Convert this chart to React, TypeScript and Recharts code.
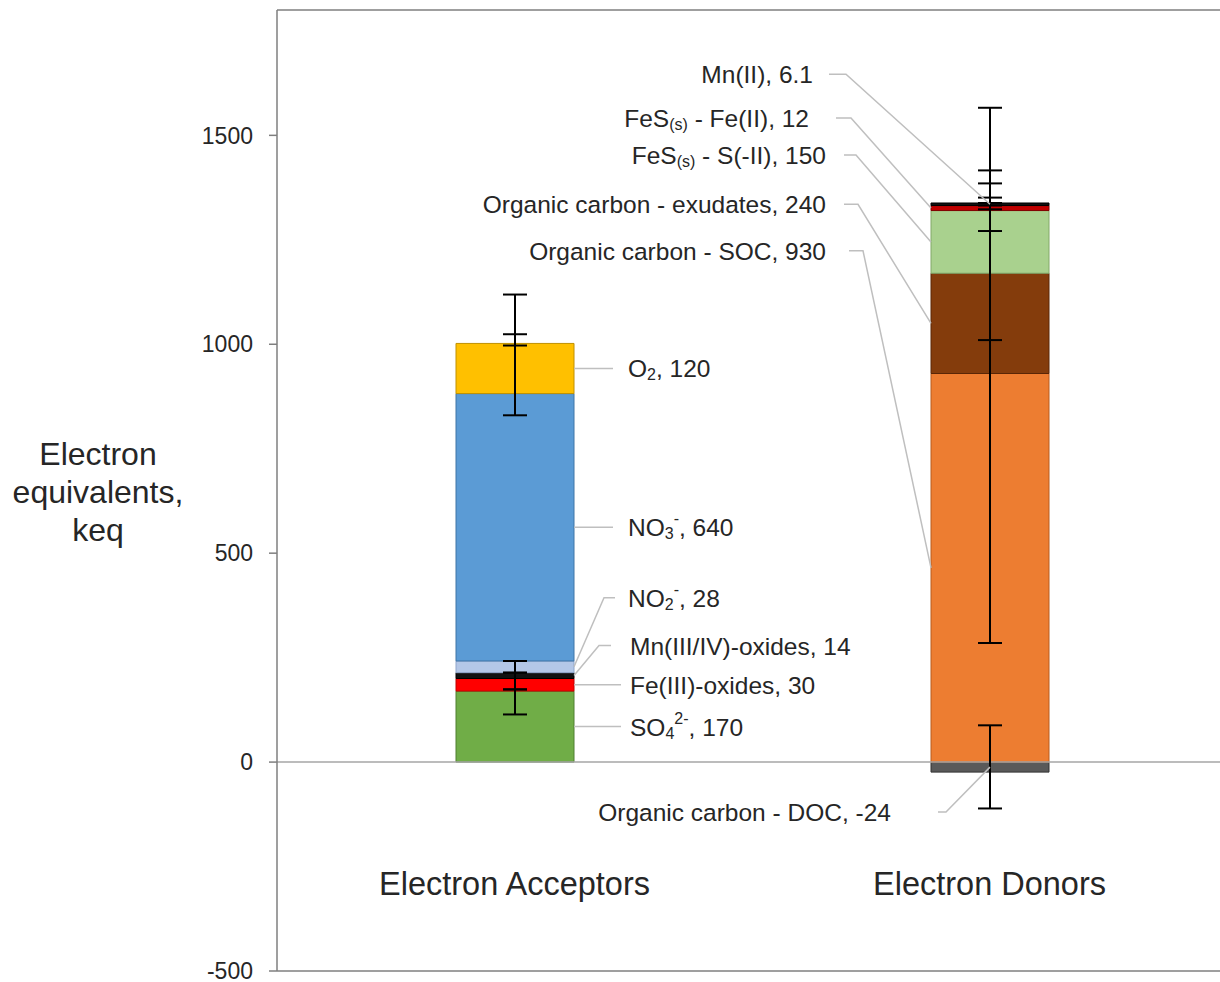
import React from "react";
import {
  BarChart,
  Bar,
  XAxis,
  YAxis,
  ErrorBar,
  LabelList,
  ReferenceLine,
} from "recharts";

const categories = ["Electron Acceptors", "Electron Donors"];

const acceptorKeys = ["so4", "fe3", "mn34", "no2", "no3", "o2"];
const acceptorValues = [170, 30, 14, 28, 640, 120];
// [minus, plus]
const acceptorErrors = [[56, 4], [26, 42], [0, 0], [0, 0], [52, 142], [5, 117]];

const donorKeys = ["doc", "soc", "exu", "fesS", "fesFe", "mn2"];
const donorValues = [-24, 930, 240, 150, 12, 6.1];
const donorErrors = [[87, 112], [645, 636], [160, 153], [49, 65], [0, 19], [0, 78]];

const yTicks = [-500, 0, 500, 1000, 1500];

type Part = { t: string; s?: "sub" | "sup" };

const seriesNames: Record<string, Part[]> = {
  so4: [{ t: "SO" }, { t: "4", s: "sub" }, { t: "2-", s: "sup" }],
  fe3: [{ t: "Fe(III)-oxides" }],
  mn34: [{ t: "Mn(III/IV)-oxides" }],
  no2: [{ t: "NO" }, { t: "2", s: "sub" }, { t: "-", s: "sup" }],
  no3: [{ t: "NO" }, { t: "3", s: "sub" }, { t: "-", s: "sup" }],
  o2: [{ t: "O" }, { t: "2", s: "sub" }],
  doc: [{ t: "Organic carbon - DOC" }],
  soc: [{ t: "Organic carbon - SOC" }],
  exu: [{ t: "Organic carbon - exudates" }],
  fesS: [{ t: "FeS" }, { t: "(s)", s: "sub" }, { t: " - S(-II)" }],
  fesFe: [{ t: "FeS" }, { t: "(s)", s: "sub" }, { t: " - Fe(II)" }],
  mn2: [{ t: "Mn(II)" }],
};

const fills: Record<string, string> = {
  so4: "#70AD47",
  fe3: "#FF0000",
  mn34: "#111111",
  no2: "#B4C7E7",
  no3: "#5B9BD5",
  o2: "#FFC000",
  doc: "#595959",
  soc: "#ED7D31",
  exu: "#843C0C",
  fesS: "#A9D18E",
  fesFe: "#C00000",
  mn2: "#111111",
};

const strokes: Record<string, string> = {
  so4: "#4E7F30",
  fe3: "#C00000",
  mn34: "#000000",
  no2: "#8FA6CC",
  no3: "#3F74A6",
  o2: "#C09000",
  doc: "#333333",
  soc: "#B85C1E",
  exu: "#5A2606",
  fesS: "#82A868",
  fesFe: "#800000",
  mn2: "#000000",
};

// callout placement, px relative to the segment (bar edge / segment middle)
type Callout = { side: "left" | "right"; center?: boolean; dy: number; elbow: number; end: number; text: number };
const callouts: Record<string, Callout> = {
  so4: { side: "right", dy: 0, elbow: 0, end: 47, text: 56 },
  fe3: { side: "right", dy: 0, elbow: 0, end: 47, text: 56 },
  mn34: { side: "right", dy: -30, elbow: 25, end: 37, text: 56 },
  no2: { side: "right", dy: -69, elbow: 30, end: 41, text: 54 },
  no3: { side: "right", dy: 0, elbow: 0, end: 39, text: 54 },
  o2: { side: "right", dy: 0, elbow: 0, end: 39, text: 54 },
  doc: { side: "left", center: true, dy: 45, elbow: 15, end: 7, text: -40 },
  soc: { side: "left", dy: -317, elbow: -68, end: -82, text: -105 },
  exu: { side: "left", dy: -119, elbow: -73, end: -87, text: -105 },
  fesS: { side: "left", dy: -87, elbow: -75, end: -87, text: -105 },
  fesFe: { side: "left", dy: -90, elbow: -80, end: -95, text: -122 },
  mn2: { side: "left", center: true, dy: -130, elbow: -85, end: -102, text: -118 },
};

const series = [
  ...acceptorKeys.map((key, j) => ({ key, cat: 0, value: acceptorValues[j], err: acceptorErrors[j] })),
  ...donorKeys.map((key, j) => ({ key, cat: 1, value: donorValues[j], err: donorErrors[j] })),
];

const data = categories.map((name, i) => {
  const row: Record<string, any> = { name };
  series
    .filter((s) => s.cat === i)
    .forEach((s) => {
      row[s.key] = s.value;
      row[s.key + "Err"] = s.err;
    });
  return row;
});

const FONT = "'Liberation Sans', Arial, sans-serif";
const TEXT = "#262626";

function CalloutText({ x, y, parts, anchor }: { x: number; y: number; parts: Part[]; anchor: "start" | "end" }) {
  let shift = 0;
  return (
    <text x={x} y={y} textAnchor={anchor} dominantBaseline="central" fill={TEXT} fontFamily={FONT} fontSize={24.5}>
      {parts.map((p, i) => {
        const target = p.s === "sub" ? 6 : p.s === "sup" ? -9 : 0;
        const dy = target - shift;
        shift = target;
        return (
          <tspan key={i} dy={dy} fontSize={p.s ? 16 : 24.5}>
            {p.t}
          </tspan>
        );
      })}
    </text>
  );
}

const renderCallout = (key: string, value: number) => (props: any) => {
  if (props.value == null || props.value === "") return null;
  const x = Number(props.x);
  const y = Number(props.y);
  const w = Number(props.width);
  const h = Number(props.height);
  if (!w) return null;
  const c = callouts[key];
  const mid = y + h / 2;
  const base = c.side === "right" ? x + w : x;
  const ax = c.center ? x + w / 2 : base;
  const ty = mid + c.dy;
  const parts = [...seriesNames[key], { t: ", " + value }];
  return (
    <g>
      <polyline
        points={`${ax},${mid} ${base + c.elbow},${ty} ${base + c.end},${ty}`}
        fill="none"
        stroke="#BFBFBF"
        strokeWidth={1.5}
      />
      <CalloutText x={base + c.text} y={ty} parts={parts} anchor={c.side === "right" ? "start" : "end"} />
    </g>
  );
};

const CategoryTick = (props: any) => {
  const { x, y, payload } = props;
  return (
    <text x={x} y={y - 87} textAnchor="middle" dominantBaseline="central" fill={TEXT} fontFamily={FONT} fontSize={32.5}>
      {payload.value}
    </text>
  );
};

export default function App() {
  return (
    <div style={{ position: "fixed", left: 0, top: 0, width: 1220, height: 982, overflow: "hidden", background: "#fff" }}>
      <div
        style={{
          position: "absolute",
          left: 0,
          top: 435,
          width: 196,
          textAlign: "center",
          fontFamily: FONT,
          fontSize: 32,
          lineHeight: "38px",
          color: TEXT,
        }}
      >
        Electron
        <br />
        equivalents,
        <br />
        keq
      </div>
      <BarChart
        width={1240}
        height={982}
        data={data}
        stackOffset="sign"
        barSize={118}
        margin={{ top: 9, right: 13, bottom: 10, left: 0 }}
        style={{ fontFamily: FONT }}
      >
        <XAxis
          dataKey="name"
          height={1}
          tickLine={false}
          tickSize={0}
          tickMargin={0}
          tick={<CategoryTick />}
          interval={0}
          axisLine={{ stroke: "#7F7F7F", strokeWidth: 1.5 }}
        />
        <XAxis
          xAxisId="top"
          orientation="top"
          dataKey="name"
          height={1}
          tick={false}
          tickLine={false}
          axisLine={{ stroke: "#7F7F7F", strokeWidth: 1.5 }}
        />
        <YAxis
          width={277}
          domain={[-500, 1800]}
          ticks={yTicks}
          interval={0}
          tickSize={8}
          tickMargin={16}
          tick={{ fontSize: 23, fill: TEXT, fontFamily: FONT }}
          tickLine={{ stroke: "#7F7F7F", strokeWidth: 1.5 }}
          axisLine={{ stroke: "#7F7F7F", strokeWidth: 1.5 }}
        />
        <ReferenceLine y={0} stroke="#A6A6A6" strokeWidth={1.5} />
        {series.map((s) => (
          <Bar
            key={s.key}
            dataKey={s.key}
            stackId="a"
            fill={fills[s.key]}
            stroke={strokes[s.key]}
            strokeWidth={1}
            isAnimationActive={false}
          >
            <ErrorBar dataKey={s.key + "Err"} width={12} stroke="#000" strokeWidth={2} direction="y" />
            <LabelList dataKey={s.key} content={renderCallout(s.key, s.value)} />
          </Bar>
        ))}
      </BarChart>
    </div>
  );
}
